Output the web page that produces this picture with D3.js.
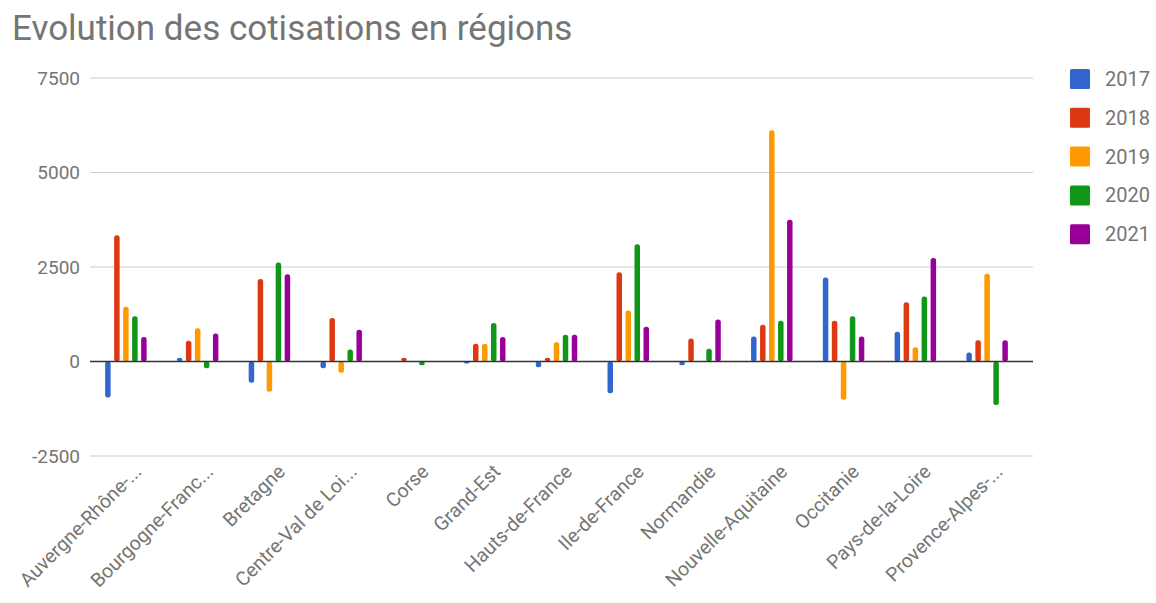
<!DOCTYPE html>
<html>
<head>
<meta charset="utf-8">
<script src="https://cdn.jsdelivr.net/npm/d3@7"></script>
<style>
  body { margin: 0; background: #fff; }
  text { font-family: Roboto, "Noto Sans", sans-serif; }
</style>
</head>
<body>
<svg id="chart" width="1156" height="603"></svg>
<script>
// data
var regions = ["Auvergne-Rhône-...", "Bourgogne-Franc...", "Bretagne", "Centre-Val de Loi...", "Corse",
    "Grand-Est", "Hauts-de-France", "Ile-de-France", "Normandie", "Nouvelle-Aquitaine", "Occitanie",
    "Pays-de-la-Loire", "Provence-Alpes-..."];

var years = ["2017", "2018", "2019", "2020", "2021"];

var v2017 = [-950, 100, -560, -180, 0, -50, -150, -840, -100, 660, 2220, 790, 240];
var v2018 = [3340, 550, 2180, 1150, 100, 470, 100, 2360, 610, 970, 1080, 1570, 560];
var v2019 = [1450, 880, -800, -300, 0, 470, 510, 1350, 0, 6120, -1010, 380, 2320];
var v2020 = [1200, -180, 2620, 320, -100, 1020, 710, 3100, 340, 1080, 1200, 1720, -1150];
var v2021 = [650, 740, 2310, 840, 0, 650, 710, 920, 1110, 3750, 660, 2740, 560];

var yTicks = [-2500, 0, 2500, 5000, 7500];

var colors = ["#3366cc", "#dc3912", "#ff9900", "#109618", "#990099"];

var series = [v2017, v2018, v2019, v2020, v2021];

// constants
var left = 90, right = 1023, gridRight = 1033;
var grey = "#757575";

var svg = d3.select("#chart");

var x0 = d3.scaleBand()
    .domain(regions)
    .range([left, right]);

var x1 = d3.scaleBand()
    .domain(years)
    .range([-20.75, 20.75])
    .paddingInner(3.5 / 9);

var y = d3.scaleLinear()
    .domain([-2500, 7500])
    .range([456, 78]);

var color = d3.scaleOrdinal().domain(years).range(colors);

// title
svg.append("text")
    .attr("x", 12)
    .attr("y", 40)
    .attr("fill", grey)
    .style("font-size", "35px")
    .text("Evolution des cotisations en régions");

// gridlines + y labels
svg.append("g")
    .selectAll("line")
    .data(yTicks.filter(function (d) { return d != 0; }))
    .enter()
    .append("line")
    .attr("x1", left)
    .attr("x2", gridRight)
    .attr("y1", function (d) { return y(d); })
    .attr("y2", function (d) { return y(d); })
    .attr("stroke", "#cccccc")
    .attr("stroke-width", 1.2);

var yAxis = d3.axisLeft(y)
    .tickValues(yTicks)
    .tickSize(0)
    .tickPadding(0)
    .tickFormat(function (d) { return String(d); });

svg.append("g")
    .attr("transform", "translate(80,0)")
    .call(yAxis)
    .call(function (g) { g.select(".domain").remove(); })
    .selectAll("text")
    .attr("fill", grey)
    .style("font-size", "19px");

// bars
var rows = regions.map(function (r, i) {
    return { region: r, values: years.map(function (yr, j) { return { year: yr, value: series[j][i] }; }) };
});

var groups = svg.append("g")
    .selectAll("g")
    .data(rows)
    .enter()
    .append("g")
    .attr("transform", function (d) { return "translate(" + (x0(d.region) + x0.bandwidth() / 2) + ",0)"; });

groups.selectAll("rect")
    .data(function (d) { return d.values; })
    .enter()
    .append("rect")
    .attr("x", function (d) { return x1(d.year); })
    .attr("width", x1.bandwidth())
    .attr("y", function (d) { return Math.min(y(d.value), y(0)); })
    .attr("height", function (d) { return Math.abs(y(d.value) - y(0)); })
    .attr("rx", 2.5)
    .attr("fill", function (d) { return color(d.year); });

// baseline
svg.append("line")
    .attr("x1", left)
    .attr("x2", gridRight)
    .attr("y1", y(0))
    .attr("y2", y(0))
    .attr("stroke", "#333333")
    .attr("stroke-width", 1.6);

// x labels
var xAxis = d3.axisBottom(x0).tickSize(0).tickPadding(0);

svg.append("g")
    .attr("transform", "translate(0,468)")
    .call(xAxis)
    .call(function (g) { g.select(".domain").remove(); })
    .selectAll("text")
    .attr("fill", grey)
    .style("font-size", "19.5px")
    .attr("dy", "0.35em")
    .attr("transform", "translate(12,0)rotate(-45)")
    .style("text-anchor", "end");

// legend
var legend = svg.append("g")
    .selectAll("g")
    .data(years)
    .enter()
    .append("g")
    .attr("transform", function (d, i) { return "translate(1070," + (79 + i * 38.8) + ")"; });

legend.append("rect")
    .attr("x", 0)
    .attr("y", -10)
    .attr("width", 20)
    .attr("height", 20)
    .attr("rx", 1.5)
    .attr("fill", function (d) { return color(d); });

legend.append("text")
    .attr("x", 35)
    .attr("y", 0)
    .attr("dy", "0.35em")
    .attr("fill", grey)
    .style("font-size", "20px")
    .text(function (d) { return d; });
</script>
</body>
</html>
